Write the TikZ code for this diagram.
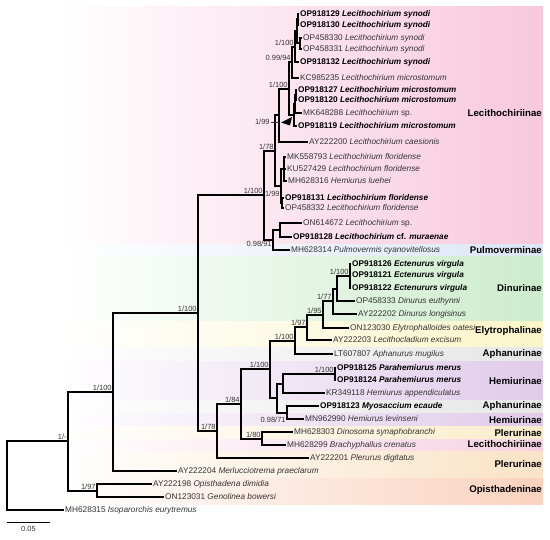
\documentclass[tikz,border=0pt]{standalone}
\usepackage{fontspec}
\setmainfont{Liberation Sans}
\begin{document}
\begin{tikzpicture}[x=1bp,y=-1bp,
  branch/.style={line width=2bp, black},
  tip/.style={anchor=west, inner sep=1bp, text height=6.5bp, text depth=1bp,
    font=\fontsize{8.3}{9}\selectfont, text=black!80},
  newtip/.style={tip, font=\fontsize{8.3}{9}\selectfont\bfseries, text=black},
  support/.style={inner sep=1.2bp, font=\fontsize{7.5}{8}\selectfont, text=black!80},
  clade/.style={anchor=east, inner sep=0pt, font=\fontsize{9.7}{11}\selectfont\bfseries}]
  % Define colors
  \definecolor{lecithcolor}{RGB}{248,200,220}
  \definecolor{lecithlow}{RGB}{246,210,225}
  \definecolor{pulmocolor}{RGB}{220,230,246}
  \definecolor{dinurcolor}{RGB}{204,236,204}
  \definecolor{elytrocolor}{RGB}{251,245,200}
  \definecolor{aphancolor}{RGB}{230,230,230}
  \definecolor{hemiurcolor}{RGB}{224,202,234}
  \definecolor{plerucolor}{RGB}{251,237,202}
  \definecolor{plerulow}{RGB}{250,227,198}
  \definecolor{opisthcolor}{RGB}{250,210,190}

  \useasboundingbox (0,0) rectangle (550,540);

  % Subfamily bands
  \foreach \ya/\yb/\col in {7/244/lecithcolor, 244/256/pulmocolor, 256/321/dinurcolor,
      321/347/elytrocolor, 347/361/aphancolor, 361/400/hemiurcolor, 400/413/aphancolor,
      413/426/hemiurcolor, 426/439/plerucolor, 439/451/lecithlow, 451/478/plerulow,
      478/504/opisthcolor} {
    \shade[left color=white, right color=\col] (60,\ya) rectangle (543,\yb);
  }

  % Subfamily labels
  \foreach \y/\txt [count=\i] in {113/Lecithochiriinae, 250/Pulmoverminae, 288/Dinurinae,
      331/Elytrophalinae, 354/Aphanurinae, 381/Hemiurinae, 406/Aphanurinae,
      420/Hemiurinae, 433/Plerurinae, 444/Lecithochiriinae, 464/Plerurinae,
      490/Opisthadeninae} {
    \node[clade] (clade\i) at (542,\y) {\txt};
  }

  % Internal nodes
  \foreach \n/\x/\y in {root/7/475.5, A/68/441, O/97/490.5, B/113/392, C/198/313.2,
      Lz/264/195.3, La/275/150.7, V/279/115.4, U/289/88.7, SK/292/62.4, S/295/46.75,
      Sab/297/31.5, Sa/298/19.5, Sb/300/43.5, M/294/115, Mb/295/104, Ma/296/95,
      F/281/186, Fa/284/169, Fb/282/203, P/273/240, Pa/280/230,
      D/217/431, E/241/403.9, H/262/438.5, G/270/369.3,
      Nap/295/340.7, Ntr/307/327.3, Nely/323/314.6, Ndb/333/301.25, Nda/337/288.5,
      Nect/350/276, Hm/277/398, Nhe/283/383.5, Npar/335/374, Nmyo/287/412.5} {
    \coordinate (\n) at (\x,\y);
  }

  % New sequences (bold)
  \foreach \n/\x/\y/\txt in {
      t01/299/14/{OP918129 \textit{Lecithochirium synodi}},
      t02/299/25/{OP918130 \textit{Lecithochirium synodi}},
      t05/299/62/{OP918132 \textit{Lecithochirium synodi}},
      t07/297/90/{OP918127 \textit{Lecithochirium microstomum}},
      t08/297/100/{OP918120 \textit{Lecithochirium microstomum}},
      t10/297/126/{OP918119 \textit{Lecithochirium microstomum}},
      t15/284/198/{OP918131 \textit{Lecithochirium floridense}},
      t18/292/237/{OP918128 \textit{Lecithochirium} cf. \textit{muraenae}},
      t20/351/264/{OP918126 \textit{Ectenurus virgula}},
      t21/351/275/{OP918121 \textit{Ectenurus virgula}},
      t22/351/288/{OP918122 \textit{Ectenururs virgula}},
      t28/336/368/{OP918125 \textit{Parahemiurus merus}},
      t29/336/380/{OP918124 \textit{Parahemiurus merus}},
      t31/319/406/{OP918123 \textit{Myosaccium ecaude}}} {
    \node[newtip] (\n) at (\x,\y) {\txt};
  }

  % GenBank sequences
  \foreach \n/\x/\y/\txt in {
      t03/302/38/{OP458330 \textit{Lecithochirium synodi}},
      t04/302/49/{OP458331 \textit{Lecithochirium synodi}},
      t06/299/78/{KC985235 \textit{Lecithochirium microstomum}},
      t09/302/113/{MK648288 \textit{Lecithochirium} sp.},
      t11/308/142/{AY222200 \textit{Lecithochirium caesionis}},
      t12/286/157/{MK558793 \textit{Lecithochirium floridense}},
      t13/286/169/{KU527429 \textit{Lecithochirium floridense}},
      t14/287/181/{MH628316 \textit{Hemiurus luehei}},
      t16/284/208/{OP458332 \textit{Lecithochirium floridense}},
      t17/302/223/{ON614672 \textit{Lecithochirium} sp.},
      t19/290/250/{MH628314 \textit{Pulmovermis cyanovitellosus}},
      t23/355/301/{OP458333 \textit{Dinurus euthynni}},
      t24/357/314/{AY222202 \textit{Dinurus longisinus}},
      t25/349/328/{ON123030 \textit{Elytrophalloides oatesi}},
      t26/332/340/{AY222203 \textit{Lecithocladium excisum}},
      t27/333/354/{LT607807 \textit{Aphanurus mugilus}},
      t30/325/393/{KR349118 \textit{Hemiurus appendiculatus}},
      t32/304/419/{MN962990 \textit{Hemiurus levinseni}},
      t33/293/432/{MH628303 \textit{Dinosoma synaphobranchi}},
      t34/286/445/{MH628299 \textit{Brachyphallus crenatus}},
      t35/309/458/{AY222201 \textit{Plerurus digitatus}},
      t36/177/471/{AY222204 \textit{Merlucciotrema praeclarum}},
      t37/152/484/{AY222198 \textit{Opisthadena dimidia}},
      t38/164/497/{ON123031 \textit{Genolinea bowersi}},
      t39/64/510/{MH628315 \textit{Isoparorchis eurytremus}}} {
    \node[tip] (\n) at (\x,\y) {\txt};
  }

  % Branches between internal nodes
  \foreach \p/\c in {root/A, A/B, A/O, B/C, C/Lz, C/D, Lz/La, Lz/P, La/V, La/F,
      V/U, U/SK, U/M, SK/S, S/Sab, Sab/Sa, Sab/Sb, M/Mb, Mb/Ma, F/Fa, F/Fb, P/Pa,
      D/E, E/G, E/H, G/Nap, G/Hm, Nap/Ntr, Ntr/Nely, Nely/Ndb, Ndb/Nda, Nda/Nect,
      Hm/Nhe, Hm/Nmyo, Nhe/Npar} {
    \draw[branch] (\p) |- (\c);
  }

  % Branches to the tips
  \foreach \p/\c in {Sa/t01, Sa/t02, Sb/t03, Sb/t04, S/t05, SK/t06, Ma/t07, Ma/t08,
      Mb/t09, M/t10, V/t11, Fa/t12, Fa/t13, Fa/t14, Fb/t15, Fb/t16, Pa/t17, Pa/t18,
      P/t19, Nect/t20, Nect/t21, Nect/t22, Nda/t23, Ndb/t24, Nely/t25, Ntr/t26,
      Nap/t27, Npar/t28, Npar/t29, Nhe/t30, Nmyo/t31, Nmyo/t32, H/t33, H/t34,
      D/t35, B/t36, O/t37, O/t38, root/t39} {
    \draw[branch] (\p) |- (\c.west);
  }

  % Support values (posterior probability / bootstrap)
  \foreach \n/\txt [count=\i] in {Lz/1\slash100, La/1\slash78, U/1\slash100,
      SK/0.99\slash94, S/1\slash100, C/1\slash100, B/1\slash100, A/1\slash-,
      O/1\slash97, D/1\slash78, E/1\slash84, H/1\slash80, G/1\slash100,
      Nap/1\slash100, Ntr/1\slash97, Nely/1\slash95, Ndb/1\slash77,
      Nect/1\slash100, Npar/1\slash100} {
    \node[support, above left] (sup\i) at (\n) {\txt};
  }
  \node[support, below left, yshift=-4bp] (supF) at (F) {1/99};
  \node[support, below left] (supP) at (P) {0.98/91};
  \node[support, below left, yshift=-3bp] (supN) at (Nmyo) {0.98/71};

  % label pointing to a tiny node
  \node[support, anchor=east] (supV) at (271,122) {1/99};
  \draw[thin, black!80] (supV.east) -- (V |- supV.east);
  \fill (281,122.5) -- (292,117) -- (290,125.5) -- cycle;

  % Scale bar
  \coordinate (sb0) at (7,522);
  \coordinate (sb1) at (50,522);
  \draw[line width=0.8bp] (sb0) -- (sb1) node[midway, below=3bp, support] (sblabel) {0.05};
\end{tikzpicture}
\end{document}
